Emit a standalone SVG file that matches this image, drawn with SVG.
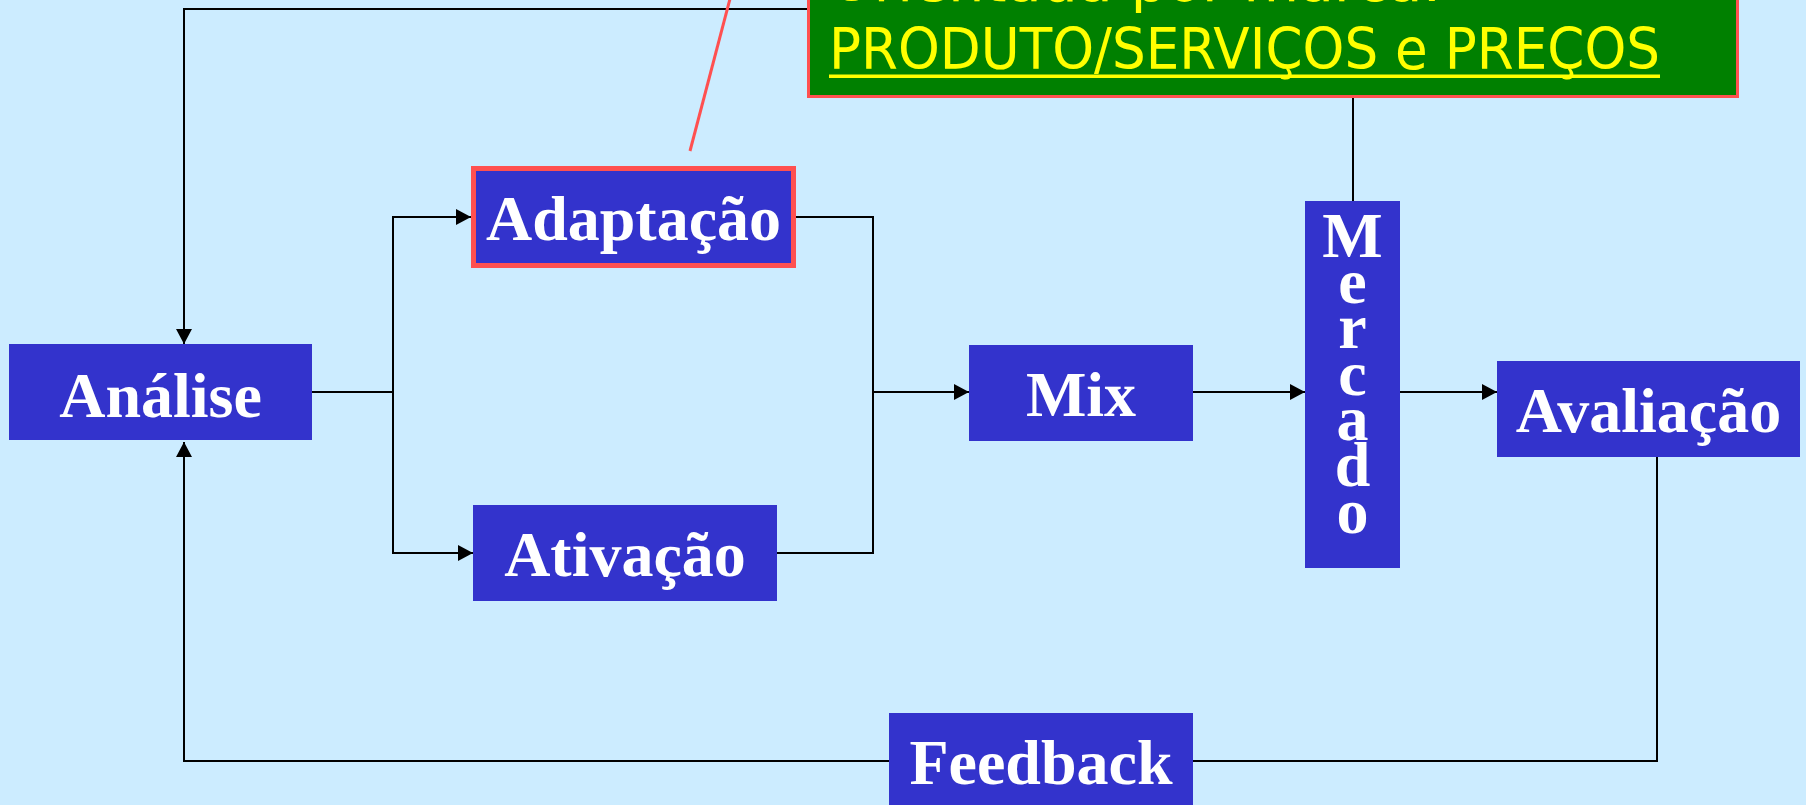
<svg xmlns="http://www.w3.org/2000/svg" width="1806" height="805" viewBox="0 0 1806 805">
  <style>
    .bg { fill: #CCECFF; }
    .box { fill: #3333CC; }
    .hl { fill: #3333CC; stroke: #FF5050; stroke-width: 5; }
    .lbl { font-family: "Liberation Serif", "Times New Roman", serif; font-weight: bold; font-size: 64px; fill: #FFFFFF; text-anchor: middle; }
    .wire { fill: none; stroke: #000000; stroke-width: 2; }
    .arrow { marker-end: url(#head); }
    .note { fill: #008000; stroke: #FF5050; stroke-width: 3; }
    .notetxt { font-family: "DejaVu Sans", "Verdana", sans-serif; font-size: 57px; fill: #FFFF00; }
    .callout { stroke: #FF5050; stroke-width: 3; fill: none; }
  </style>
  <defs>
    <marker id="head" markerUnits="userSpaceOnUse" markerWidth="15" markerHeight="16" refX="15" refY="8" orient="auto">
      <path d="M0,0 L15,8 L0,16 Z" fill="#000000"/>
    </marker>
  </defs>

  <rect class="bg" x="0" y="0" width="1806" height="805"/>

  <!-- connectors -->
  <g id="connectors">
    <!-- top loop from the note back into Análise -->
    <path class="wire arrow" d="M820,9 H184 V344"/>
    <!-- Análise splits to Adaptação and Ativação -->
    <path class="wire" d="M312,392 H393"/>
    <path class="wire arrow" d="M393,392 V217 H471"/>
    <path class="wire arrow" d="M393,392 V553 H473"/>
    <!-- both branches join into Mix -->
    <path class="wire" d="M796,217 H873 V553 H777"/>
    <path class="wire arrow" d="M873,392 H969"/>
    <path class="wire arrow" d="M1193,392 H1305"/>
    <path class="wire arrow" d="M1400,392 H1497"/>
    <!-- Mercado tied to the note above -->
    <path class="wire" d="M1353,201 V97"/>
    <!-- feedback loop -->
    <path class="wire" d="M1657,457 V761 H1193"/>
    <path class="wire arrow" d="M889,761 H184 V442"/>
    <!-- callout from Adaptação to the note -->
    <path class="callout" d="M690,151 L731,-5"/>
  </g>

  <g id="note">
    <rect class="note" x="808.5" y="-120" width="929" height="216.5"/>
    <text class="notetxt" x="829" y="0.5">Orientada por marca:</text>
    <text class="notetxt" x="829" y="69" textLength="831" lengthAdjust="spacingAndGlyphs">PRODUTO/SERVIÇOS e PREÇOS</text>
    <rect x="829" y="74.5" width="831" height="3.5" fill="#FFFF00"/>
  </g>

  <g id="analise">
    <rect class="box" x="9" y="344" width="303" height="96"/>
    <text class="lbl" x="160.5" y="417">Análise</text>
  </g>

  <g id="adaptacao">
    <rect class="hl" x="473.5" y="168.5" width="320" height="97"/>
    <text class="lbl" x="633.5" y="240">Adaptação</text>
  </g>

  <g id="ativacao">
    <rect class="box" x="473" y="505" width="304" height="96"/>
    <text class="lbl" x="625" y="576">Ativação</text>
  </g>

  <g id="mix">
    <rect class="box" x="969" y="345" width="224" height="96"/>
    <text class="lbl" x="1081" y="416">Mix</text>
  </g>

  <g id="mercado">
    <rect class="box" x="1305" y="201" width="95" height="367"/>
    <text class="lbl" x="1352.5" y="257">M<tspan x="1352.5" dy="46">e</tspan><tspan x="1352.5" dy="45">r</tspan><tspan x="1352.5" dy="47">c</tspan><tspan x="1352.5" dy="45">a</tspan><tspan x="1352.5" dy="46">d</tspan><tspan x="1352.5" dy="47">o</tspan></text>
  </g>

  <g id="avaliacao">
    <rect class="box" x="1497" y="361" width="303" height="96"/>
    <text class="lbl" x="1648.5" y="432">Avaliação</text>
  </g>

  <g id="feedback">
    <rect class="box" x="889" y="713" width="304" height="100"/>
    <text class="lbl" x="1041" y="784">Feedback</text>
  </g>
</svg>
